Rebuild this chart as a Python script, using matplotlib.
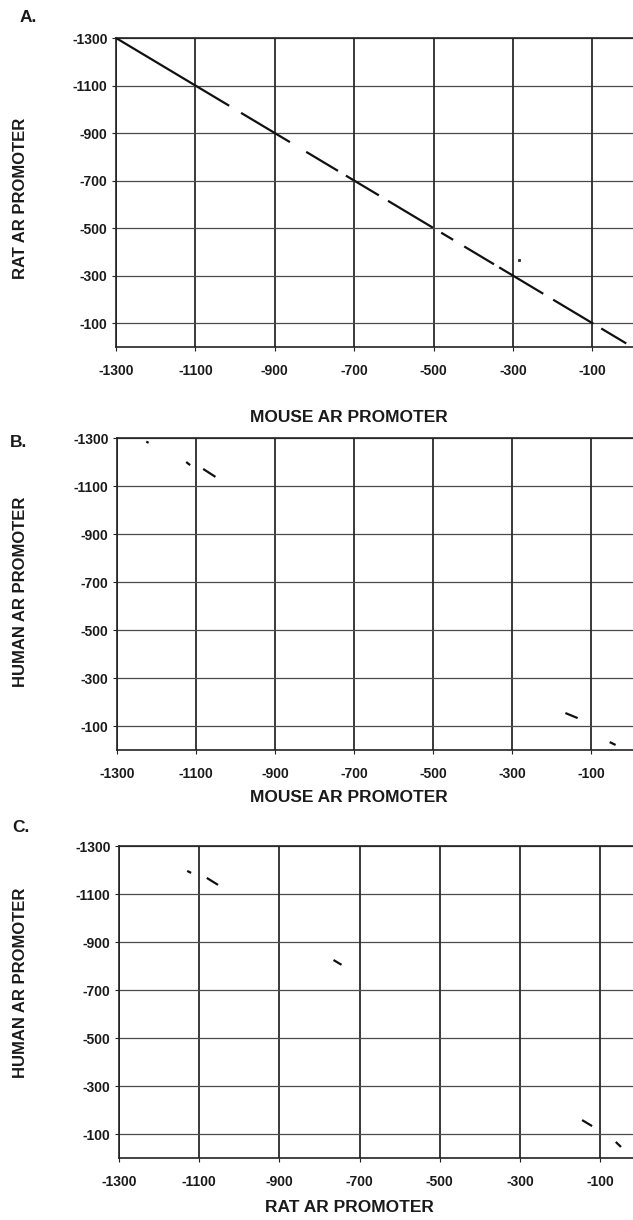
import matplotlib
matplotlib.use("Agg")
import matplotlib.pyplot as plt

plt.rcParams['font.family'] = ['Liberation Sans', 'DejaVu Sans']

ticks = [-1300, -1100, -900, -700, -500, -300, -100]
tick_labels = ["-1300", "-1100", "-900", "-700", "-500", "-300", "-100"]

# Panel A: mouse vs rat (identity line segments)
a_x0 = [-1300, -985, -821, -721, -615, -481, -423, -335, -199, -78]
a_x1 = [-1015, -862, -741, -638, -502, -451, -348, -224, -98, -15]
a_y0 = [-1300, -985, -821, -721, -615, -481, -423, -335, -199, -78]
a_y1 = [-1015, -862, -741, -638, -502, -451, -348, -224, -98, -15]
a_dot_x = [-285]
a_dot_y = [-367]

# Panel B: mouse vs human
b_x0 = [-1226, -1125, -1082, -166, -54]
b_x1 = [-1220, -1115, -1051, -135, -39]
b_y0 = [-1285, -1200, -1171, -154, -33]
b_y1 = [-1280, -1187, -1138, -133, -21]

# Panel C: rat vs human
c_x0 = [-1130, -1081, -765, -145, -61]
c_x1 = [-1120, -1053, -745, -120, -48]
c_y0 = [-1196, -1167, -825, -158, -67]
c_y1 = [-1188, -1138, -805, -133, -46]

W, H = 633, 1220
fig = plt.figure(figsize=(W / 100, H / 100), dpi=100)


def add_axes(left, top, right, bottom):
    return fig.add_axes([left / W, 1 - bottom / H, (right - left) / W, (bottom - top) / H])


panels = [
    dict(box=(116, 38, 633, 347), xlim=(-1300, 2), x0=a_x0, x1=a_x1, y0=a_y0, y1=a_y1,
         dots=(a_dot_x, a_dot_y)),
    dict(box=(117, 438, 633, 750), xlim=(-1300, 5), x0=b_x0, x1=b_x1, y0=b_y0, y1=b_y1,
         dots=None),
    dict(box=(119, 846, 633, 1158), xlim=(-1300, -18), x0=c_x0, x1=c_x1, y0=c_y0, y1=c_y1,
         dots=None),
]

for p in panels:
    ax = add_axes(*p['box'])
    ax.set_xlim(*p['xlim'])
    ax.set_ylim(0, -1300)
    for t in ticks:
        ax.axvline(t, color='#2a2a2a', lw=1.3, zorder=1)
        ax.axhline(t, color='#4a4a4a', lw=0.9, zorder=1)
    for xs, xe, ys, ye in zip(p['x0'], p['x1'], p['y0'], p['y1']):
        ax.plot([xs, xe], [ys, ye], color='#111111', lw=1.6, solid_capstyle='butt', zorder=3)
    if p['dots'] is not None:
        ax.plot(p['dots'][0], p['dots'][1], 's', color='#333333', ms=1.2, zorder=3)
    ax.set_xticks(ticks)
    ax.set_xticklabels(tick_labels)
    ax.set_yticks(ticks)
    ax.set_yticklabels(tick_labels)
    ax.tick_params(axis='both', length=3, width=0.8, color='#222222',
                   labelsize=10, labelcolor='#1a1a1a')
    ax.tick_params(axis='x', pad=9)
    ax.tick_params(axis='y', pad=3)
    for lbl in ax.get_xticklabels() + ax.get_yticklabels():
        lbl.set_fontweight('bold')
    for side in ['left', 'bottom', 'top']:
        ax.spines[side].set_color('#222222')
        ax.spines[side].set_linewidth(1.2)
    ax.spines['right'].set_visible(False)


def ftext(x, y, s, **kw):
    fig.text(x / W, 1 - y / H, s, ha='center', va='center', color='#1a1a1a',
             fontweight='bold', **kw)


ftext(28, 18, "A.", fontsize=12.5)
ftext(19, 443, "B.", fontsize=12.5)
ftext(21, 828, "C.", fontsize=12.5)

ftext(349, 417, "MOUSE AR PROMOTER", fontsize=12.5)
ftext(349, 798, "MOUSE AR PROMOTER", fontsize=12.5)
ftext(349, 1207, "RAT AR PROMOTER", fontsize=12.5)

ftext(21, 198, "RAT AR PROMOTER", fontsize=12, rotation=90)
ftext(21, 592, "HUMAN AR PROMOTER", fontsize=12, rotation=90)
ftext(21, 983, "HUMAN AR PROMOTER", fontsize=12, rotation=90)

fig.savefig("out.png", dpi=100, facecolor='white')
